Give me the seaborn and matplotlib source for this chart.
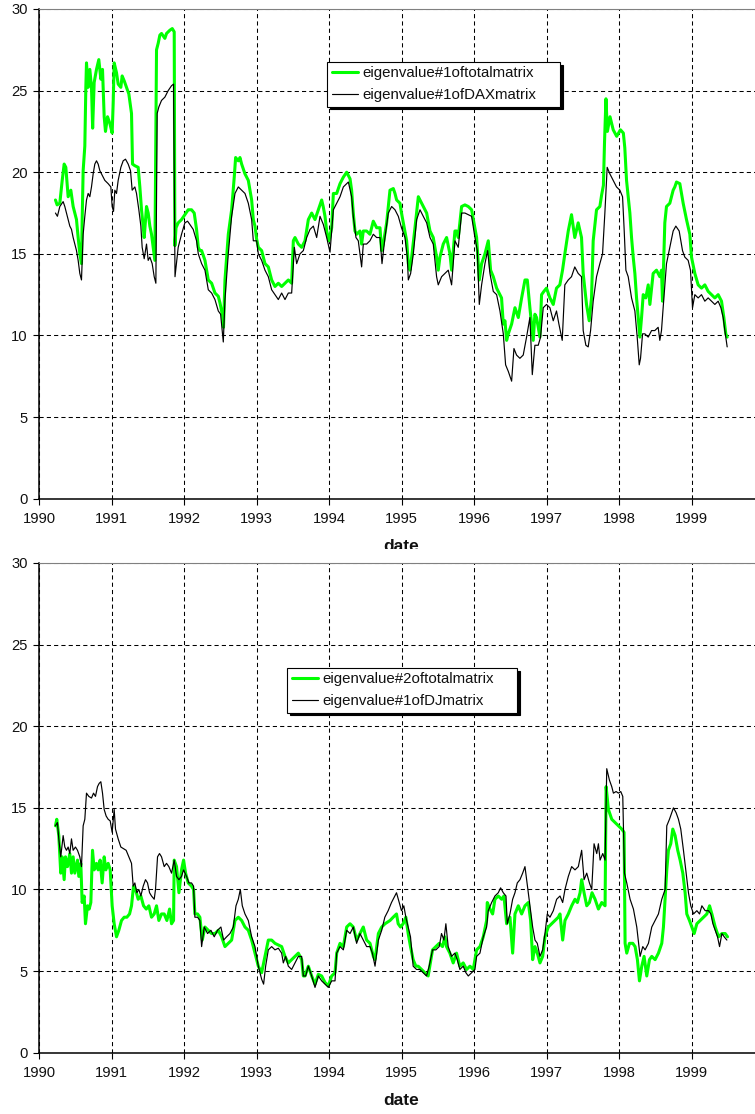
import numpy as np
import pandas as pd
import seaborn as sns
import matplotlib
matplotlib.use("Agg")
import matplotlib.pyplot as plt
from matplotlib.patches import Rectangle

# ---------------- data ----------------
years = [1990, 1991, 1992, 1993, 1994, 1995, 1996, 1997, 1998, 1999]
year_labels = [str(y) for y in years]
y_ticks = [0, 5, 10, 15, 20, 25, 30]

top_labels = ["eigenvalue#1oftotalmatrix", "eigenvalue#1ofDAXmatrix"]
bottom_labels = ["eigenvalue#2oftotalmatrix", "eigenvalue#1ofDJmatrix"]

total1_dates = [1990.227, 1990.25, 1990.287, 1990.32, 1990.347, 1990.37, 1990.402, 1990.439, 1990.471, 1990.494, 1990.517, 1990.54, 1990.563, 1990.586, 1990.595, 1990.609, 1990.632, 1990.646, 1990.655, 1990.678, 1990.701, 1990.724, 1990.74, 1990.761, 1990.793, 1990.825, 1990.853, 1990.876, 1990.899, 1990.917, 1990.945, 1990.977, 1991.009, 1991.023, 1991.037, 1991.069, 1991.092, 1991.129, 1991.147, 1991.175, 1991.207, 1991.239, 1991.276, 1991.29, 1991.322, 1991.368, 1991.391, 1991.414, 1991.437, 1991.451, 1991.483, 1991.506, 1991.529, 1991.552, 1991.575, 1991.598, 1991.621, 1991.644, 1991.667, 1991.69, 1991.736, 1991.759, 1991.805, 1991.838, 1991.865, 1991.874, 1991.89, 1991.92, 1991.966, 1992.012, 1992.058, 1992.104, 1992.141, 1992.173, 1992.197, 1992.22, 1992.243, 1992.289, 1992.335, 1992.381, 1992.427, 1992.473, 1992.496, 1992.532, 1992.545, 1992.565, 1992.611, 1992.657, 1992.693, 1992.712, 1992.749, 1992.772, 1992.795, 1992.841, 1992.887, 1992.933, 1992.956, 1992.979, 1993.002, 1993.025, 1993.071, 1993.117, 1993.163, 1993.209, 1993.255, 1993.301, 1993.347, 1993.393, 1993.439, 1993.485, 1993.508, 1993.531, 1993.577, 1993.623, 1993.669, 1993.715, 1993.761, 1993.807, 1993.853, 1993.899, 1993.92, 1993.945, 1993.968, 1994.0, 1994.037, 1994.06, 1994.106, 1994.152, 1994.198, 1994.244, 1994.29, 1994.312, 1994.335, 1994.358, 1994.381, 1994.427, 1994.45, 1994.473, 1994.519, 1994.565, 1994.611, 1994.657, 1994.703, 1994.726, 1994.749, 1994.795, 1994.818, 1994.841, 1994.887, 1994.91, 1994.933, 1994.979, 1995.0, 1995.025, 1995.071, 1995.094, 1995.117, 1995.14, 1995.186, 1995.232, 1995.255, 1995.3, 1995.347, 1995.393, 1995.438, 1995.484, 1995.507, 1995.53, 1995.576, 1995.622, 1995.668, 1995.691, 1995.737, 1995.76, 1995.783, 1995.829, 1995.875, 1995.921, 1995.967, 1996.0, 1996.036, 1996.073, 1996.105, 1996.151, 1996.197, 1996.229, 1996.266, 1996.312, 1996.358, 1996.38, 1996.404, 1996.427, 1996.45, 1996.473, 1996.519, 1996.565, 1996.611, 1996.657, 1996.703, 1996.735, 1996.771, 1996.817, 1996.84, 1996.863, 1996.909, 1996.932, 1996.964, 1997.0, 1997.047, 1997.093, 1997.138, 1997.184, 1997.221, 1997.253, 1997.3, 1997.345, 1997.39, 1997.437, 1997.483, 1997.506, 1997.552, 1997.589, 1997.621, 1997.644, 1997.69, 1997.736, 1997.76, 1997.785, 1997.80, 1997.82, 1997.84, 1997.876, 1997.92, 1997.968, 1998.02, 1998.06, 1998.08, 1998.104, 1998.15, 1998.173, 1998.196, 1998.219, 1998.242, 1998.265, 1998.288, 1998.311, 1998.334, 1998.37, 1998.403, 1998.426, 1998.449, 1998.471, 1998.517, 1998.563, 1998.586, 1998.6, 1998.632, 1998.655, 1998.701, 1998.747, 1998.77, 1998.793, 1998.839, 1998.885, 1998.931, 1998.977, 1999.0, 1999.046, 1999.092, 1999.138, 1999.184, 1999.23, 1999.276, 1999.322, 1999.368, 1999.414, 1999.446, 1999.473, 1999.492]
total1_vals = [18.3, 18.0, 18.1, 19.5, 20.5, 20.3, 18.5, 18.9, 17.9, 17.5, 17.1, 16.0, 15.0, 14.4, 17.0, 20.1, 21.6, 25.2, 26.7, 25.2, 26.3, 25.2, 22.7, 25.5, 26.3, 26.9, 25.7, 26.3, 23.4, 22.5, 23.4, 23.0, 22.4, 24.2, 26.7, 26.1, 25.4, 25.2, 25.9, 25.6, 25.2, 24.8, 23.6, 20.5, 20.4, 20.3, 19.1, 17.7, 16.7, 16.0, 17.9, 17.5, 16.7, 16.2, 15.4, 14.6, 27.5, 27.9, 28.4, 28.5, 28.2, 28.5, 28.7, 28.8, 28.6, 15.5, 16.6, 16.9, 17.1, 17.4, 17.7, 17.7, 17.5, 16.5, 15.4, 15.2, 15.2, 14.6, 13.4, 13.2, 12.6, 12.4, 12.0, 11.2, 10.5, 13.4, 16.2, 17.7, 19.7, 20.9, 20.7, 20.9, 20.5, 19.9, 19.5, 18.3, 17.1, 16.7, 15.9, 15.4, 15.2, 14.4, 14.2, 13.4, 13.0, 13.2, 13.0, 13.2, 13.4, 13.2, 15.8, 16.0, 15.6, 15.4, 15.8, 17.1, 17.5, 17.1, 17.7, 18.3, 17.9, 17.3, 16.4, 15.8, 16.6, 18.7, 18.7, 19.3, 19.7, 20.0, 19.6, 18.9, 17.5, 16.4, 16.2, 16.4, 15.6, 16.4, 16.4, 16.2, 17.0, 16.6, 16.6, 15.2, 15.6, 16.9, 17.9, 18.9, 19.0, 18.7, 18.3, 18.1, 17.5, 16.9, 15.8, 14.4, 14.0, 14.8, 16.6, 18.5, 18.3, 17.9, 17.5, 16.4, 16.0, 14.8, 14.0, 14.8, 15.6, 16.0, 15.0, 14.0, 16.4, 16.4, 16.0, 17.9, 18.0, 17.9, 17.7, 16.9, 16.0, 13.4, 14.4, 15.0, 15.8, 14.0, 13.6, 12.9, 12.5, 12.3, 10.7, 10.9, 9.7, 10.1, 10.7, 11.7, 11.1, 12.3, 13.4, 13.4, 11.7, 9.7, 11.3, 11.1, 9.9, 12.5, 12.7, 12.9, 12.3, 11.9, 12.9, 13.1, 14.0, 15.0, 16.4, 17.4, 16.0, 16.9, 16.0, 13.8, 11.9, 10.9, 12.3, 15.8, 17.7, 17.9, 18.6, 19.2, 21.8, 24.5, 22.5, 23.4, 22.6, 22.2, 22.6, 22.4, 21.5, 19.5, 17.5, 16.0, 14.8, 13.8, 12.3, 11.1, 9.9, 11.1, 12.5, 12.3, 13.1, 11.9, 12.9, 13.8, 14.0, 13.6, 14.0, 12.1, 16.9, 17.9, 18.1, 18.9, 19.1, 19.4, 19.3, 18.1, 17.1, 16.2, 14.8, 13.8, 13.1, 12.9, 13.1, 12.7, 12.5, 12.3, 12.5, 12.1, 11.1, 10.1, 9.9]

dax1_dates = [1990.227, 1990.254, 1990.287, 1990.333, 1990.356, 1990.402, 1990.425, 1990.448, 1990.471, 1990.494, 1990.517, 1990.54, 1990.563, 1990.586, 1990.609, 1990.632, 1990.655, 1990.678, 1990.701, 1990.724, 1990.747, 1990.77, 1990.793, 1990.816, 1990.839, 1990.862, 1990.908, 1990.954, 1990.991, 1991.009, 1991.028, 1991.046, 1991.069, 1991.092, 1991.129, 1991.161, 1991.193, 1991.23, 1991.262, 1991.285, 1991.322, 1991.345, 1991.377, 1991.405, 1991.423, 1991.451, 1991.483, 1991.506, 1991.529, 1991.561, 1991.589, 1991.612, 1991.63, 1991.653, 1991.69, 1991.736, 1991.782, 1991.828, 1991.856, 1991.876, 1991.92, 1991.966, 1992.012, 1992.049, 1992.081, 1992.127, 1992.173, 1992.197, 1992.243, 1992.289, 1992.335, 1992.381, 1992.427, 1992.473, 1992.505, 1992.542, 1992.565, 1992.611, 1992.657, 1992.703, 1992.749, 1992.795, 1992.841, 1992.887, 1992.933, 1992.956, 1993.002, 1993.025, 1993.071, 1993.117, 1993.163, 1993.209, 1993.255, 1993.301, 1993.347, 1993.393, 1993.439, 1993.485, 1993.522, 1993.554, 1993.6, 1993.646, 1993.692, 1993.738, 1993.784, 1993.83, 1993.876, 1993.922, 1993.968, 1994.014, 1994.06, 1994.106, 1994.152, 1994.198, 1994.267, 1994.312, 1994.335, 1994.372, 1994.404, 1994.45, 1994.473, 1994.519, 1994.565, 1994.611, 1994.657, 1994.703, 1994.731, 1994.772, 1994.818, 1994.864, 1994.91, 1994.956, 1995.0, 1995.048, 1995.08, 1995.094, 1995.126, 1995.163, 1995.209, 1995.255, 1995.3, 1995.347, 1995.393, 1995.438, 1995.484, 1995.507, 1995.553, 1995.599, 1995.645, 1995.691, 1995.737, 1995.783, 1995.829, 1995.875, 1995.921, 1995.967, 1996.013, 1996.045, 1996.073, 1996.105, 1996.151, 1996.188, 1996.22, 1996.266, 1996.312, 1996.358, 1996.404, 1996.436, 1996.473, 1996.519, 1996.551, 1996.587, 1996.633, 1996.679, 1996.725, 1996.771, 1996.804, 1996.84, 1996.886, 1996.918, 1996.955, 1997.0, 1997.047, 1997.093, 1997.138, 1997.171, 1997.217, 1997.253, 1997.3, 1997.345, 1997.39, 1997.437, 1997.483, 1997.506, 1997.543, 1997.575, 1997.608, 1997.644, 1997.69, 1997.736, 1997.773, 1997.805, 1997.837, 1997.874, 1997.92, 1997.966, 1998.012, 1998.049, 1998.072, 1998.095, 1998.127, 1998.173, 1998.219, 1998.251, 1998.279, 1998.297, 1998.325, 1998.357, 1998.403, 1998.449, 1998.494, 1998.54, 1998.563, 1998.586, 1998.609, 1998.655, 1998.701, 1998.747, 1998.784, 1998.83, 1998.876, 1998.908, 1998.954, 1998.986, 1999.014, 1999.046, 1999.092, 1999.138, 1999.184, 1999.23, 1999.276, 1999.322, 1999.368, 1999.405, 1999.437, 1999.46, 1999.492]
dax1_vals = [17.5, 17.3, 17.9, 18.2, 17.9, 17.1, 16.7, 16.5, 16.0, 15.6, 15.2, 14.6, 13.8, 13.4, 16.2, 17.3, 18.3, 18.7, 18.5, 19.1, 19.9, 20.5, 20.7, 20.5, 20.1, 19.9, 19.5, 19.3, 19.1, 17.9, 17.6, 18.9, 18.7, 19.5, 20.3, 20.7, 20.8, 20.5, 20.1, 18.9, 19.1, 18.7, 17.7, 16.7, 15.4, 14.7, 15.6, 14.6, 14.8, 14.4, 13.6, 13.2, 23.6, 24.0, 24.4, 24.6, 25.0, 25.3, 25.4, 13.6, 15.4, 16.2, 16.9, 17.0, 16.8, 16.5, 15.8, 15.0, 14.4, 14.0, 12.8, 12.6, 12.2, 11.5, 11.3, 9.6, 12.2, 15.0, 17.3, 18.7, 19.1, 18.9, 18.7, 18.1, 17.1, 15.8, 15.8, 15.0, 14.6, 14.0, 13.6, 12.8, 12.5, 12.2, 12.6, 12.2, 12.6, 12.6, 15.4, 14.4, 15.0, 15.2, 16.0, 16.5, 16.7, 16.0, 17.3, 16.8, 16.0, 15.1, 17.7, 18.1, 18.5, 19.1, 19.4, 18.5, 17.3, 16.0, 15.8, 14.2, 15.6, 15.6, 15.8, 16.2, 16.0, 16.0, 14.4, 16.0, 17.5, 17.9, 17.7, 17.3, 16.6, 16.0, 14.8, 13.4, 13.8, 15.0, 17.1, 17.7, 17.3, 16.9, 16.0, 15.6, 13.6, 13.1, 13.6, 13.8, 14.0, 13.1, 15.8, 15.4, 17.5, 17.5, 17.4, 17.3, 16.0, 15.2, 11.9, 13.1, 14.4, 15.2, 13.8, 12.7, 12.5, 11.5, 10.1, 8.2, 7.8, 7.2, 9.2, 8.8, 8.6, 8.8, 9.9, 11.1, 7.6, 9.4, 9.4, 9.9, 11.7, 11.9, 11.7, 10.9, 11.5, 10.7, 9.7, 13.1, 13.4, 13.6, 14.2, 13.8, 13.6, 10.3, 9.4, 9.3, 10.3, 12.1, 13.6, 14.4, 15.0, 17.5, 20.3, 19.9, 19.5, 19.1, 18.9, 18.5, 16.4, 14.0, 13.6, 12.3, 11.5, 9.9, 8.2, 8.6, 10.1, 10.1, 9.9, 10.3, 10.3, 10.5, 9.7, 10.3, 11.7, 14.4, 15.4, 16.4, 16.7, 16.4, 15.2, 14.8, 14.6, 14.0, 11.7, 12.5, 12.3, 12.5, 12.1, 12.3, 12.1, 11.9, 12.1, 11.7, 11.1, 10.3, 9.3]

total2_dates = [1990.227, 1990.245, 1990.273, 1990.3, 1990.319, 1990.347, 1990.365, 1990.393, 1990.425, 1990.448, 1990.471, 1990.494, 1990.531, 1990.549, 1990.577, 1990.595, 1990.623, 1990.641, 1990.669, 1990.692, 1990.715, 1990.738, 1990.761, 1990.793, 1990.816, 1990.843, 1990.871, 1990.899, 1990.922, 1990.954, 1990.982, 1991.009, 1991.037, 1991.069, 1991.101, 1991.138, 1991.175, 1991.212, 1991.249, 1991.276, 1991.304, 1991.331, 1991.368, 1991.405, 1991.442, 1991.479, 1991.515, 1991.552, 1991.589, 1991.621, 1991.653, 1991.69, 1991.727, 1991.764, 1991.801, 1991.828, 1991.856, 1991.865, 1991.897, 1991.93, 1991.966, 1991.994, 1992.022, 1992.058, 1992.104, 1992.132, 1992.15, 1992.187, 1992.219, 1992.252, 1992.289, 1992.335, 1992.381, 1992.427, 1992.473, 1992.519, 1992.565, 1992.611, 1992.657, 1992.703, 1992.749, 1992.795, 1992.841, 1992.887, 1992.933, 1992.979, 1993.025, 1993.071, 1993.117, 1993.163, 1993.209, 1993.255, 1993.301, 1993.347, 1993.393, 1993.439, 1993.485, 1993.531, 1993.577, 1993.623, 1993.646, 1993.669, 1993.715, 1993.761, 1993.807, 1993.853, 1993.899, 1993.945, 1993.991, 1994.037, 1994.083, 1994.106, 1994.152, 1994.198, 1994.244, 1994.29, 1994.335, 1994.381, 1994.427, 1994.473, 1994.519, 1994.566, 1994.612, 1994.635, 1994.681, 1994.727, 1994.773, 1994.842, 1994.885, 1994.931, 1994.954, 1994.986, 1995.023, 1995.06, 1995.092, 1995.124, 1995.161, 1995.198, 1995.23, 1995.276, 1995.322, 1995.368, 1995.391, 1995.428, 1995.474, 1995.52, 1995.566, 1995.598, 1995.621, 1995.667, 1995.713, 1995.759, 1995.805, 1995.851, 1995.898, 1995.944, 1995.99, 1996.036, 1996.082, 1996.128, 1996.174, 1996.183, 1996.22, 1996.257, 1996.289, 1996.335, 1996.381, 1996.413, 1996.45, 1996.496, 1996.533, 1996.565, 1996.611, 1996.657, 1996.703, 1996.749, 1996.781, 1996.809, 1996.841, 1996.873, 1996.91, 1996.947, 1996.979, 1997.025, 1997.071, 1997.117, 1997.163, 1997.186, 1997.223, 1997.255, 1997.301, 1997.347, 1997.393, 1997.426, 1997.463, 1997.485, 1997.518, 1997.555, 1997.592, 1997.628, 1997.67, 1997.716, 1997.762, 1997.808, 1997.822, 1997.854, 1997.9, 1997.946, 1997.992, 1998.038, 1998.07, 1998.084, 1998.107, 1998.144, 1998.19, 1998.222, 1998.254, 1998.282, 1998.314, 1998.346, 1998.383, 1998.42, 1998.452, 1998.498, 1998.544, 1998.59, 1998.613, 1998.636, 1998.659, 1998.682, 1998.714, 1998.742, 1998.774, 1998.81, 1998.843, 1998.88, 1998.912, 1998.935, 1998.972, 1999.005, 1999.037, 1999.074, 1999.12, 1999.166, 1999.212, 1999.249, 1999.281, 1999.327, 1999.373, 1999.419, 1999.465, 1999.497]
total2_vals = [13.9, 14.3, 13.3, 11.0, 12.0, 10.6, 12.0, 11.4, 12.2, 11.0, 12.0, 11.0, 11.8, 10.8, 11.6, 9.2, 9.6, 7.9, 9.0, 8.8, 9.2, 12.4, 11.2, 11.6, 11.2, 11.8, 10.4, 12.0, 11.2, 11.6, 11.2, 9.0, 7.9, 7.1, 7.5, 8.1, 8.3, 8.3, 8.5, 9.0, 10.2, 10.0, 9.4, 9.6, 9.0, 8.8, 9.0, 8.3, 8.5, 9.0, 8.1, 8.5, 8.5, 8.1, 8.8, 7.9, 8.1, 11.8, 11.4, 9.8, 11.2, 11.8, 11.0, 10.4, 10.2, 10.0, 8.5, 8.5, 8.3, 6.9, 7.7, 7.5, 7.3, 7.3, 7.5, 7.1, 6.5, 6.7, 6.9, 8.1, 8.3, 8.1, 7.7, 7.5, 6.9, 6.1, 5.3, 4.9, 5.9, 6.9, 6.9, 6.7, 6.6, 6.5, 5.9, 5.5, 5.7, 5.9, 6.1, 5.7, 4.7, 4.7, 5.3, 4.7, 4.2, 4.8, 4.7, 4.3, 4.1, 4.7, 4.9, 6.1, 6.7, 6.5, 7.7, 7.9, 7.7, 6.9, 7.3, 7.7, 6.9, 6.7, 5.9, 5.7, 7.3, 7.7, 7.9, 8.1, 8.3, 8.5, 7.9, 7.7, 7.9, 8.3, 7.3, 6.5, 5.7, 5.3, 5.3, 5.1, 4.9, 4.7, 5.3, 6.3, 6.5, 6.7, 6.5, 7.1, 6.5, 6.1, 5.5, 6.1, 5.3, 5.5, 5.1, 5.3, 5.1, 6.3, 6.5, 7.1, 8.1, 9.2, 8.8, 8.5, 9.4, 9.6, 9.4, 9.6, 7.9, 8.3, 6.1, 8.5, 9.0, 8.5, 9.0, 9.2, 8.1, 5.7, 6.5, 6.1, 5.5, 5.9, 7.1, 7.7, 7.9, 8.1, 8.3, 8.5, 6.9, 8.1, 8.5, 9.0, 9.4, 9.2, 9.8, 10.6, 9.8, 9.0, 9.2, 9.8, 9.4, 8.8, 9.2, 9.0, 16.3, 14.9, 14.3, 14.1, 13.9, 13.7, 13.5, 6.7, 6.1, 6.7, 6.7, 6.5, 5.7, 4.4, 5.3, 5.9, 4.7, 5.7, 5.9, 5.7, 6.1, 6.7, 7.7, 9.4, 11.2, 12.4, 12.8, 13.7, 13.3, 12.4, 11.8, 11.0, 9.8, 8.5, 8.1, 7.7, 7.3, 7.9, 8.1, 8.3, 8.5, 9.0, 8.5, 7.7, 7.1, 7.3, 7.3, 7.1]

dj1_dates = [1990.227, 1990.254, 1990.273, 1990.3, 1990.333, 1990.356, 1990.379, 1990.402, 1990.425, 1990.448, 1990.471, 1990.503, 1990.531, 1990.563, 1990.586, 1990.609, 1990.632, 1990.655, 1990.687, 1990.724, 1990.752, 1990.779, 1990.807, 1990.83, 1990.853, 1990.876, 1990.899, 1990.926, 1990.954, 1990.982, 1991.009, 1991.037, 1991.055, 1991.092, 1991.129, 1991.166, 1991.202, 1991.239, 1991.276, 1991.299, 1991.322, 1991.35, 1991.377, 1991.405, 1991.437, 1991.469, 1991.497, 1991.525, 1991.552, 1991.589, 1991.607, 1991.635, 1991.662, 1991.69, 1991.727, 1991.759, 1991.791, 1991.828, 1991.865, 1991.897, 1991.93, 1991.966, 1991.994, 1992.035, 1992.068, 1992.104, 1992.132, 1992.15, 1992.187, 1992.219, 1992.243, 1992.279, 1992.325, 1992.371, 1992.417, 1992.463, 1992.509, 1992.546, 1992.588, 1992.634, 1992.68, 1992.717, 1992.749, 1992.777, 1992.804, 1992.841, 1992.887, 1992.933, 1992.979, 1993.025, 1993.071, 1993.098, 1993.126, 1993.163, 1993.209, 1993.255, 1993.301, 1993.347, 1993.37, 1993.402, 1993.439, 1993.485, 1993.531, 1993.577, 1993.623, 1993.646, 1993.678, 1993.715, 1993.761, 1993.807, 1993.853, 1993.899, 1993.945, 1993.991, 1994.037, 1994.083, 1994.106, 1994.152, 1994.198, 1994.244, 1994.29, 1994.335, 1994.381, 1994.427, 1994.473, 1994.519, 1994.566, 1994.598, 1994.635, 1994.681, 1994.727, 1994.77, 1994.816, 1994.862, 1994.908, 1994.931, 1994.968, 1995.0, 1995.032, 1995.06, 1995.092, 1995.124, 1995.161, 1995.207, 1995.253, 1995.299, 1995.345, 1995.382, 1995.428, 1995.474, 1995.52, 1995.552, 1995.585, 1995.612, 1995.644, 1995.69, 1995.736, 1995.769, 1995.805, 1995.851, 1995.888, 1995.921, 1995.967, 1996.013, 1996.036, 1996.082, 1996.128, 1996.174, 1996.197, 1996.243, 1996.289, 1996.335, 1996.367, 1996.404, 1996.441, 1996.459, 1996.496, 1996.533, 1996.565, 1996.597, 1996.634, 1996.671, 1996.703, 1996.726, 1996.749, 1996.772, 1996.809, 1996.841, 1996.873, 1996.91, 1996.947, 1996.979, 1997.011, 1997.048, 1997.094, 1997.14, 1997.186, 1997.223, 1997.255, 1997.301, 1997.347, 1997.393, 1997.439, 1997.485, 1997.518, 1997.555, 1997.592, 1997.624, 1997.656, 1997.693, 1997.716, 1997.739, 1997.776, 1997.808, 1997.831, 1997.868, 1997.9, 1997.923, 1997.96, 1997.992, 1998.024, 1998.052, 1998.075, 1998.107, 1998.153, 1998.199, 1998.245, 1998.291, 1998.328, 1998.36, 1998.406, 1998.452, 1998.498, 1998.544, 1998.59, 1998.636, 1998.659, 1998.696, 1998.728, 1998.751, 1998.788, 1998.82, 1998.852, 1998.889, 1998.926, 1998.958, 1998.99, 1999.028, 1999.074, 1999.111, 1999.143, 1999.189, 1999.235, 1999.267, 1999.295, 1999.327, 1999.359, 1999.387, 1999.419, 1999.451, 1999.488]
dj1_vals = [13.9, 14.1, 13.1, 12.0, 13.3, 12.6, 12.4, 12.6, 12.2, 13.1, 12.4, 12.6, 12.4, 12.0, 11.4, 13.9, 14.3, 15.9, 15.7, 15.6, 15.9, 15.7, 16.3, 16.5, 16.6, 15.9, 14.9, 14.5, 14.3, 14.2, 13.5, 14.9, 13.7, 13.1, 12.6, 12.5, 12.4, 12.0, 11.6, 10.2, 10.4, 9.8, 10.0, 9.6, 10.2, 10.6, 10.4, 9.8, 9.6, 9.4, 10.0, 12.0, 12.2, 12.0, 11.4, 11.6, 11.4, 11.0, 11.8, 10.8, 10.6, 10.8, 11.2, 10.8, 10.4, 10.4, 10.2, 8.3, 8.3, 8.1, 6.5, 7.7, 7.3, 7.5, 7.1, 7.5, 7.7, 6.9, 7.1, 7.3, 7.7, 9.0, 9.4, 10.0, 9.0, 8.5, 8.1, 7.1, 6.5, 5.3, 4.5, 4.2, 5.3, 6.3, 6.5, 6.3, 6.4, 6.1, 5.5, 5.9, 5.3, 5.1, 5.5, 5.9, 5.9, 4.7, 4.7, 5.3, 4.7, 4.0, 4.7, 4.4, 4.2, 4.0, 4.4, 4.4, 6.1, 6.5, 6.3, 7.5, 7.3, 7.7, 6.7, 7.3, 6.9, 6.5, 6.5, 6.1, 5.3, 6.9, 7.5, 8.3, 8.7, 9.2, 9.6, 9.8, 9.2, 8.7, 9.0, 8.3, 7.7, 7.1, 5.3, 5.1, 5.1, 4.9, 4.7, 5.3, 6.3, 6.3, 6.5, 7.3, 6.9, 7.9, 6.5, 5.9, 6.1, 5.7, 5.1, 5.3, 4.9, 4.7, 4.9, 5.1, 5.9, 6.1, 7.1, 7.7, 8.7, 9.2, 9.6, 9.8, 10.1, 9.8, 9.6, 7.9, 8.5, 9.4, 9.8, 10.4, 10.6, 11.0, 11.4, 10.6, 9.8, 9.0, 7.7, 6.9, 6.7, 5.9, 6.3, 7.3, 8.5, 8.3, 8.7, 9.4, 9.6, 9.2, 10.0, 10.8, 11.4, 11.2, 11.4, 12.4, 10.6, 11.0, 10.4, 10.0, 12.8, 12.2, 12.8, 11.8, 12.2, 11.8, 17.4, 16.7, 16.3, 15.9, 16.0, 15.9, 16.0, 15.7, 11.0, 10.4, 9.4, 8.8, 7.7, 5.9, 6.5, 6.3, 6.7, 7.7, 8.1, 8.5, 9.4, 10.0, 13.9, 14.3, 14.7, 15.0, 14.7, 14.3, 13.7, 12.4, 11.0, 9.8, 9.0, 8.5, 8.7, 8.5, 9.0, 8.7, 8.7, 8.5, 7.9, 7.5, 7.1, 6.5, 7.3, 7.1, 6.9]

# ---------------- styling ----------------
sns.set_style("white")
plt.rcParams['font.family'] = ['Liberation Sans', 'DejaVu Sans']

W, H = 755, 1114
fig = plt.figure(figsize=(W / 100, H / 100), dpi=100)

GREEN = '#00FF00'


def px_axes(left_px, top_px, right_px, bottom_px):
    return [left_px / W, 1 - bottom_px / H, (right_px - left_px) / W, (bottom_px - top_px) / H]


ax1 = fig.add_axes(px_axes(39, 9, 764, 498.7), zorder=0)
ax2 = fig.add_axes(px_axes(39, 563, 764, 1052.7), zorder=2)

# white sheet of the lower chart area (it hides the bottom of the upper "date")
fig.patches.append(Rectangle((0, 0), 1, 1 - 549 / H, transform=fig.transFigure,
                             facecolor='white', edgecolor='none', zorder=1))


def draw_panel(ax, gx, gy, bx, by, labels, legend_box):
    df_g = pd.DataFrame({'date': gx, 'value': gy})
    df_b = pd.DataFrame({'date': bx, 'value': by})
    sns.lineplot(data=df_g, x='date', y='value', ax=ax, color=GREEN, linewidth=2.2,
                 sort=False, estimator=None, label=labels[0], zorder=3)
    sns.lineplot(data=df_b, x='date', y='value', ax=ax, color='black', linewidth=0.85,
                 sort=False, estimator=None, label=labels[1], zorder=4)
    ax.set_xlim(1990, 2000)
    ax.set_ylim(0, 30)
    ax.set_xticks(years)
    ax.set_xticklabels(year_labels)
    ax.set_yticks(y_ticks)
    ax.set_yticklabels([str(t) for t in y_ticks])
    ax.set_axisbelow(True)
    ax.grid(True, color='black', linestyle=(0, (4, 3)), linewidth=0.75)
    ax.set_ylabel('')
    ax.set_xlabel('date', fontsize=12.5, fontweight='bold', color='#111111')
    ax.xaxis.set_label_coords(0.4993, -(1093 - 1052.7) / 489.7)
    ax.xaxis.label.set_va('top')
    for side in ['left', 'bottom']:
        ax.spines[side].set_visible(True)
        ax.spines[side].set_color('black')
        ax.spines[side].set_linewidth(1.1)
    ax.spines['top'].set_color('#808080')
    ax.spines['top'].set_linewidth(0.8)
    ax.spines['right'].set_visible(False)
    ax.tick_params(axis='both', direction='out', length=4, width=0.8, color='black',
                   labelsize=10.6, labelcolor='#111111', left=True, bottom=True)
    ax.tick_params(axis='y', pad=4.2)
    ax.tick_params(axis='x', pad=5.5)
    x0, y0, x1 = legend_box
    leg = ax.legend(loc='upper left', bbox_to_anchor=(x0 / W, 1 - y0 / H, (x1 - x0) / W, 0),
                    bbox_transform=fig.transFigure, mode='expand', borderaxespad=0,
                    frameon=True, fancybox=False, framealpha=1, edgecolor='black',
                    fontsize=10.8, handlelength=1.75, handletextpad=0.3, borderpad=0.3,
                    labelspacing=0.5,
                    shadow={'facecolor': 'black', 'edgecolor': 'black', 'alpha': 1.0,
                            'ox': 2, 'oy': -2})
    leg.get_frame().set_linewidth(0.8)
    for t in leg.get_texts():
        t.set_color('#111111')


draw_panel(ax1, total1_dates, total1_vals, dax1_dates, dax1_vals, top_labels, (327, 62, 560))
draw_panel(ax2, total2_dates, total2_vals, dj1_dates, dj1_vals, bottom_labels, (287, 668, 517))

fig.savefig('out.png', dpi=100)
